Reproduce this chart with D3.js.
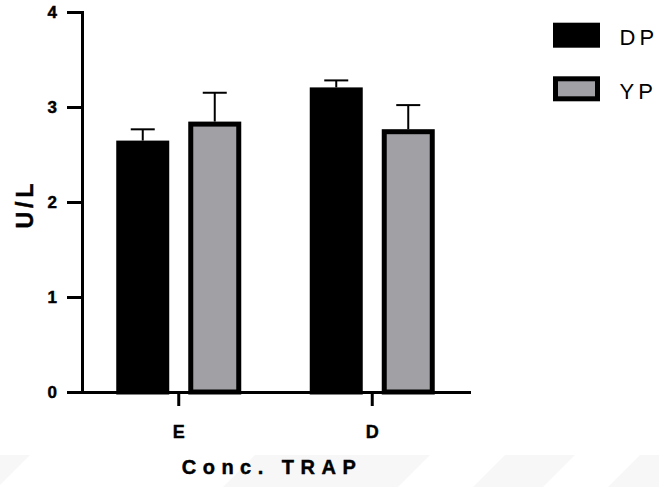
<!DOCTYPE html>
<html>
<head>
<meta charset="utf-8">
<script src="https://cdn.jsdelivr.net/npm/d3@7"></script>
<style>
  body { margin: 0; background: #fff; }
  svg { display: block; }
  text { font-family: "Liberation Sans", Arial, sans-serif; fill: #000; }
  .heavy { font-weight: bold; stroke: #000; stroke-width: 0.45px; }
</style>
</head>
<body>
<svg id="chart" width="659" height="487"></svg>
<script>
// Conc. TRAP (U/L) by group, mean with upper error bar
const categories = ["E", "D"];
const seriesNames = ["DP", "YP"];
const dpValues = [2.62, 3.18];
const dpErrors = [0.145, 0.10];
const ypValues = [2.82, 2.74];
const ypErrors = [0.33, 0.28];
const yTicks = [0, 1, 2, 3, 4];
const yLabel = "U/L";
const xLabel = "Conc. TRAP";

const seriesStyle = {
  DP: { fill: "#000000" },
  YP: { fill: "#a1a0a5" }
};

const rows = categories.map((c, i) => ({
  category: c,
  bars: [
    { series: "DP", value: dpValues[i], error: dpErrors[i] },
    { series: "YP", value: ypValues[i], error: ypErrors[i] }
  ]
}));

const svg = d3.select("#chart");

// faint diagonal background bands along the bottom edge
const bands = [
  [[-40, 455], [30, 455], [-2, 487], [-72, 487]],
  [[255, 455], [430, 455], [398, 487], [223, 487]],
  [[505, 455], [575, 455], [543, 487], [473, 487]],
  [[640, 455], [700, 455], [668, 487], [608, 487]]
];
svg.append("g").selectAll("polygon").data(bands).join("polygon")
  .attr("points", d => d.map(p => p.join(",")).join(" "))
  .attr("fill", "#f7f7f8");

const y = d3.scaleLinear().domain([0, 4]).range([392, 12]);
const x = d3.scaleBand().domain(categories).range([82, 469]);
const xInner = d3.scaleBand().domain(seriesNames).range([-60, 60]).paddingInner(1 / 3);

// bars
const groups = svg.append("g").selectAll("g").data(rows).join("g")
  .attr("transform", d => `translate(${x(d.category) + x.bandwidth() / 2},0)`);

groups.selectAll("rect").data(d => d.bars).join("rect")
  .attr("x", d => xInner(d.series))
  .attr("width", xInner.bandwidth())
  .attr("y", d => y(d.value))
  .attr("height", d => y(0) - y(d.value))
  .attr("fill", d => seriesStyle[d.series].fill)
  .attr("stroke", "#000")
  .attr("stroke-width", 5);

// upper error bars
const capHalf = 12;
const err = groups.selectAll("g.err").data(d => d.bars).join("g").attr("class", "err");
err.append("line")
  .attr("x1", d => xInner(d.series) + xInner.bandwidth() / 2)
  .attr("x2", d => xInner(d.series) + xInner.bandwidth() / 2)
  .attr("y1", d => y(d.value) - 2.5)
  .attr("y2", d => y(d.value + d.error))
  .attr("stroke", "#000").attr("stroke-width", 2);
err.append("line")
  .attr("x1", d => xInner(d.series) + xInner.bandwidth() / 2 - capHalf)
  .attr("x2", d => xInner(d.series) + xInner.bandwidth() / 2 + capHalf)
  .attr("y1", d => y(d.value + d.error))
  .attr("y2", d => y(d.value + d.error))
  .attr("stroke", "#000").attr("stroke-width", 2);

// axes
const yAxis = svg.append("g")
  .attr("transform", "translate(82,0)")
  .call(d3.axisLeft(y).tickValues(yTicks).tickFormat(d3.format("d")).tickSize(15).tickSizeOuter(0).tickPadding(10));
const xAxis = svg.append("g")
  .attr("transform", "translate(0,392)")
  .call(d3.axisBottom(x).tickSize(14).tickSizeOuter(0).tickPadding(19));

[yAxis, xAxis].forEach(a => {
  a.attr("font-family", null).attr("font-size", null);
  a.selectAll("path.domain").attr("stroke", "#000").attr("stroke-width", 3).attr("stroke-linecap", "square");
  a.selectAll(".tick line").attr("stroke", "#000").attr("stroke-width", 3);
});
yAxis.selectAll(".tick text")
  .attr("class", "heavy")
  .style("font-size", "17px");
xAxis.selectAll(".tick text")
  .attr("class", "heavy")
  .style("font-size", "18px");

// axis titles
svg.append("text")
  .attr("class", "heavy")
  .attr("transform", "translate(33,204) rotate(-90)")
  .attr("text-anchor", "middle")
  .style("font-size", "23px")
  .style("letter-spacing", "4px")
  .text(yLabel);

svg.append("text")
  .attr("class", "heavy")
  .attr("x", 272).attr("y", 474)
  .attr("text-anchor", "middle")
  .style("font-size", "20px")
  .style("letter-spacing", "6.5px")
  .text(xLabel);

// legend
const legend = svg.append("g").selectAll("g").data(seriesNames).join("g")
  .attr("transform", (d, i) => `translate(0,${i * 53.6})`);
legend.append("rect")
  .attr("x", 555.5).attr("y", 25.2).attr("width", 42).attr("height", 20)
  .attr("fill", d => seriesStyle[d].fill)
  .attr("stroke", "#000").attr("stroke-width", 5);
legend.append("text")
  .attr("x", 619.5).attr("y", 45)
  .style("font-size", "22px")
  .style("letter-spacing", "4px")
  .text(d => d);
</script>
</body>
</html>
